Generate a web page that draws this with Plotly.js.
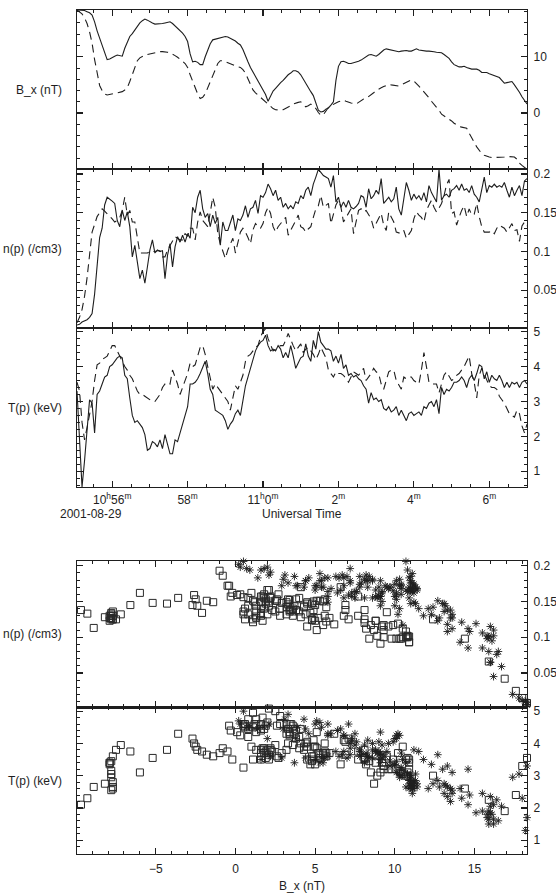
<!DOCTYPE html>
<html>
<head>
<meta charset="utf-8">
<script src="https://cdn.plot.ly/plotly-3.0.1.min.js"></script>
<style>
  html, body { margin: 0; padding: 0; background: #fff; }
  #plot { width: 556px; height: 895px; }
</style>
</head>
<body>
<div id="plot"></div>
<script>
// Cluster plasma parameters, 2001-08-29, 4 s cadence from 10:55:04 UT.
// Series A: solid line / asterisks.  Series B: dashed line / open squares.
const obsDate = '2001-08-29';
const startSecondOfDay = 10 * 3600 + 55 * 60 + 4;
const cadenceSeconds = 4;

const bxA = [
  18.3, 18.3, 18.3, 18.2, 18.0, 17.8, 17.4, 16.2, 14.6, 13.3,
  11.8, 10.4, 9.5, 9.6, 9.9, 10.1, 10.3, 10.2, 10.1, 11.5,
  12.7, 13.6, 14.1, 14.7, 15.5, 16.0, 16.4, 16.7, 16.5, 16.2,
  16.0, 15.8, 15.8, 15.9, 15.9, 16.0, 16.1, 16.2, 15.9, 15.5,
  15.1, 14.6, 14.2, 13.6, 12.7, 10.5, 9.1, 9.2, 9.0, 8.6,
  8.6, 10.0, 11.2, 12.3, 13.0, 13.1, 13.2, 13.3, 13.5, 13.6,
  13.5, 13.3, 13.1, 12.8, 12.4, 12.1, 11.3, 10.1, 9.1, 8.1,
  7.3, 6.6, 5.8, 5.1, 4.3, 3.3, 2.1, 3.0, 3.9, 4.4,
  5.0, 5.4, 5.8, 6.4, 6.8, 7.1, 7.5, 7.5, 7.3, 6.8,
  6.0, 5.3, 4.6, 3.8, 3.1, 1.8, 0.5, 0.2, 0.3, 0.7,
  0.9, 1.4, 2.0, 5.8, 8.3, 9.1, 9.2, 9.0, 8.8, 8.8,
  8.9, 9.0, 9.2, 9.4, 9.7, 10.0, 10.3, 10.4, 10.3, 10.1,
  10.4, 10.8, 11.2, 11.4, 11.3, 11.1, 11.0, 10.9, 10.9, 11.0,
  11.1, 11.1, 11.0, 11.0, 11.2, 11.4, 11.2, 11.1, 11.1, 11.0,
  11.0, 11.0, 10.9, 10.8, 10.7, 10.7, 10.4, 10.0, 9.7, 9.1,
  8.6, 8.4, 8.2, 8.2, 8.3, 8.1, 7.9, 7.8, 7.8, 7.8,
  7.6, 7.2, 7.2, 7.2, 7.0, 6.8, 6.7, 6.5, 6.3, 5.8,
  5.3, 5.4, 5.5, 5.6, 5.0, 4.4, 3.7, 2.9, 2.2, 1.6
];

const bxB = [
  18.3, 18.0, 17.6, 16.9, 15.9, 14.4, 12.4, 9.5, 6.9, 4.9,
  4.0, 3.4, 3.2, 3.3, 3.4, 3.5, 3.6, 3.7, 3.8, 4.1,
  4.5, 5.6, 6.9, 8.1, 9.3, 9.8, 10.1, 10.3, 10.4, 10.5,
  10.7, 10.8, 10.8, 10.9, 10.9, 10.9, 10.8, 10.7, 10.5, 10.2,
  9.9, 9.6, 9.2, 8.8, 8.1, 6.8, 5.6, 4.5, 3.4, 2.6,
  2.8, 3.4, 4.4, 5.5, 6.6, 7.7, 8.8, 9.3, 9.3, 9.1,
  8.9, 8.7, 8.5, 8.4, 8.2, 8.1, 7.7, 7.1, 6.2, 5.1,
  4.1, 3.6, 3.2, 2.8, 2.5, 2.1, 1.7, 1.2, 0.8, 0.6,
  0.5, 0.5, 0.6, 0.8, 1.1, 1.3, 1.6, 1.8, 1.9, 2.0,
  1.6, 1.1, 1.3, 1.6, 1.3, 0.8, 0.1, -0.4, -0.3, 0.3,
  1.0, 1.3, 1.6, 1.8, 2.0, 2.2, 2.3, 2.1, 1.9, 1.8,
  1.7, 1.6, 1.9, 2.2, 2.5, 2.6, 2.9, 3.2, 3.6, 4.0,
  4.3, 4.5, 4.7, 4.9, 5.1, 5.0, 4.9, 4.8, 4.8, 5.0,
  5.2, 5.5, 5.7, 5.9, 5.7, 5.3, 4.8, 4.3, 3.8, 3.3,
  2.7, 2.1, 1.6, 1.1, 0.5, -0.2, -0.5, -0.8, -1.0, -1.4,
  -1.8, -2.1, -2.4, -2.5, -2.6, -2.7, -3.6, -4.3, -5.2, -6.0,
  -6.6, -7.2, -7.5, -7.7, -7.8, -7.9, -7.9, -7.9, -7.8, -7.8,
  -7.8, -7.7, -7.7, -7.7, -7.8, -8.2, -8.9, -9.3, -9.7, -10.0
];

const nA = [
  0.005, 0.006, 0.009, 0.010, 0.012, 0.015, 0.020, 0.045, 0.085, 0.118,
  0.130, 0.160, 0.170, 0.168, 0.165, 0.162, 0.140, 0.132, 0.153, 0.140,
  0.151, 0.132, 0.093, 0.108, 0.085, 0.065, 0.076, 0.059, 0.080, 0.102,
  0.115, 0.098, 0.102, 0.100, 0.101, 0.065, 0.095, 0.110, 0.080, 0.106,
  0.119, 0.112, 0.121, 0.112, 0.123, 0.117, 0.157, 0.150, 0.170, 0.179,
  0.155, 0.144, 0.149, 0.132, 0.147, 0.136, 0.144, 0.108, 0.138, 0.127,
  0.127, 0.138, 0.147, 0.127, 0.142, 0.140, 0.147, 0.159, 0.144, 0.155,
  0.157, 0.166, 0.149, 0.172, 0.170, 0.176, 0.187, 0.181, 0.172, 0.179,
  0.166, 0.170, 0.157, 0.162, 0.155, 0.159, 0.155, 0.164, 0.162, 0.172,
  0.168, 0.179, 0.183, 0.172, 0.187, 0.196, 0.206, 0.202, 0.198, 0.196,
  0.194, 0.183, 0.198, 0.164, 0.170, 0.157, 0.164, 0.157, 0.166, 0.157,
  0.155, 0.158, 0.162, 0.172, 0.170, 0.157, 0.181, 0.168, 0.172, 0.179,
  0.174, 0.194, 0.162, 0.166, 0.170, 0.164, 0.168, 0.183, 0.155, 0.147,
  0.168, 0.189, 0.179, 0.166, 0.174, 0.168, 0.172, 0.166, 0.176, 0.164,
  0.185, 0.176, 0.170, 0.164, 0.206, 0.166, 0.172, 0.174, 0.170, 0.179,
  0.181, 0.185, 0.179, 0.187, 0.179, 0.181, 0.176, 0.185, 0.174, 0.170,
  0.164, 0.179, 0.196, 0.176, 0.185, 0.183, 0.187, 0.183, 0.185, 0.183,
  0.189, 0.179, 0.170, 0.183, 0.172, 0.179, 0.185, 0.172, 0.191, 0.194
];

const nB = [
  0.008, 0.015, 0.025, 0.042, 0.066, 0.098, 0.125, 0.135, 0.145, 0.150,
  0.155, 0.152, 0.149, 0.146, 0.142, 0.138, 0.140, 0.144, 0.153, 0.170,
  0.147, 0.153, 0.138, 0.138, 0.117, 0.098, 0.098, 0.098, 0.098, 0.100,
  0.100, 0.100, 0.101, 0.101, 0.093, 0.093, 0.102, 0.108, 0.112, 0.119,
  0.117, 0.115, 0.115, 0.123, 0.120, 0.130, 0.130, 0.115, 0.138, 0.151,
  0.140, 0.136, 0.132, 0.150, 0.170, 0.157, 0.123, 0.110, 0.100, 0.091,
  0.102, 0.110, 0.117, 0.098, 0.112, 0.125, 0.130, 0.125, 0.118, 0.110,
  0.128, 0.136, 0.132, 0.130, 0.136, 0.150, 0.157, 0.149, 0.132, 0.125,
  0.132, 0.136, 0.140, 0.144, 0.121, 0.127, 0.134, 0.140, 0.147, 0.132,
  0.130, 0.125, 0.129, 0.132, 0.144, 0.155, 0.159, 0.172, 0.157, 0.160,
  0.162, 0.136, 0.149, 0.160, 0.166, 0.157, 0.138, 0.144, 0.150, 0.155,
  0.123, 0.140, 0.153, 0.155, 0.151, 0.153, 0.148, 0.142, 0.130, 0.136,
  0.142, 0.149, 0.134, 0.127, 0.151, 0.145, 0.138, 0.125, 0.124, 0.123,
  0.127, 0.117, 0.122, 0.127, 0.142, 0.151, 0.147, 0.144, 0.138, 0.153,
  0.160, 0.166, 0.157, 0.151, 0.156, 0.162, 0.172, 0.186, 0.193, 0.149,
  0.151, 0.134, 0.144, 0.153, 0.159, 0.145, 0.155, 0.147, 0.148, 0.162,
  0.145, 0.132, 0.125, 0.125, 0.125, 0.127, 0.123, 0.130, 0.134, 0.132,
  0.130, 0.125, 0.130, 0.136, 0.127, 0.128, 0.113, 0.133, 0.138, 0.133
];

const tA = [
  3.3, 1.7, 0.55, 1.3, 2.3, 3.05, 2.95, 2.1, 3.2, 3.3,
  3.5, 3.7, 3.75, 4.0, 4.05, 4.15, 4.25, 4.3, 4.25, 3.75,
  3.65, 3.1, 2.6, 2.4, 2.45, 2.35, 2.25, 2.05, 1.6, 1.65,
  1.85, 1.8, 1.7, 1.9, 1.65, 2.05, 1.8, 1.5, 1.5, 1.9,
  1.85, 2.1, 2.3, 2.55, 2.85, 3.5, 3.5, 3.55, 3.65, 3.8,
  4.0, 4.15, 3.8, 3.35, 3.2, 2.75, 2.7, 2.65, 2.6, 2.45,
  2.2, 2.35, 2.45, 2.65, 2.75, 2.6, 3.05, 3.45, 3.7, 3.95,
  4.15, 4.45, 4.6, 4.7, 4.75, 4.9, 4.6, 4.45, 4.5, 4.45,
  4.6, 4.5, 4.25, 4.4, 4.25, 4.6, 4.3, 3.95, 4.1, 4.25,
  4.3, 4.65, 4.3, 4.15, 4.75, 4.5, 5.0, 4.7, 4.6, 4.5,
  4.5, 4.45, 4.15, 4.3, 4.1, 4.35, 3.95, 4.05, 3.75, 3.8,
  3.7, 3.75, 3.65, 3.6, 3.45, 3.35, 2.95, 3.25, 3.05, 3.1,
  3.0, 3.05, 2.8, 2.75, 2.85, 2.7, 2.75, 2.85, 2.6, 2.75,
  2.6, 2.45, 2.65, 2.7, 2.6, 2.65, 2.7, 2.6, 2.85, 2.8,
  2.95, 3.0, 2.85, 3.05, 2.65, 3.4, 3.2, 3.35, 3.3, 3.4,
  3.55, 3.55, 3.6, 3.7, 3.6, 3.4, 3.65, 3.75, 3.6, 3.8,
  4.05, 4.0, 3.65, 3.85, 3.55, 3.75, 3.65, 3.6, 3.75, 3.6,
  3.4, 3.55, 3.4, 3.55, 3.5, 3.55, 3.4, 3.55, 3.6, 3.5
];

const tB = [
  3.55, 3.3, 2.4, 1.9, 2.25, 2.6, 3.0, 3.6, 4.05, 4.1,
  4.2, 4.25, 4.3, 4.45, 4.6, 4.6, 4.45, 4.3, 4.15, 4.0,
  3.9, 3.75, 3.65, 3.5, 3.3, 3.2, 3.2, 3.15, 3.1, 3.05,
  3.0, 3.0, 3.1, 3.2, 3.4, 3.5, 3.55, 3.5, 3.9, 3.7,
  3.5, 3.2, 3.4, 3.65, 3.8, 4.1, 4.0, 4.05, 4.3, 4.55,
  4.6, 4.35, 4.0, 3.7, 3.35, 3.5, 3.4, 3.3, 3.2, 3.1,
  3.0, 2.75, 3.1, 3.45, 3.35, 3.55, 3.75, 4.15, 4.3, 4.35,
  4.45, 4.55, 4.6, 4.85, 5.0, 5.08, 4.8, 4.6, 4.45, 4.5,
  4.55, 4.6, 4.6, 4.75, 4.95, 4.75, 4.6, 4.45, 4.55, 4.65,
  4.4, 4.5, 4.55, 4.45, 4.35, 4.2, 4.35, 4.55, 4.4, 4.25,
  3.9, 3.8, 3.7, 3.85, 3.8, 3.8, 3.75, 3.65, 3.55, 3.7,
  3.85, 3.8, 3.75, 3.85, 3.95, 3.6, 3.7, 3.8, 3.95, 3.85,
  3.8, 3.5, 3.35, 3.6, 3.85, 3.9, 3.9, 3.6, 3.45, 3.35,
  3.7, 3.65, 3.7, 3.7, 3.6, 3.55, 3.5, 3.9, 4.4, 4.0,
  3.55, 3.5, 3.5, 3.5, 3.25, 3.5, 3.75, 3.85, 3.7, 3.6,
  3.65, 3.75, 3.8, 3.9, 4.0, 4.15, 4.3, 3.8, 3.55, 3.1,
  3.75, 3.95, 3.8, 3.6, 3.45, 3.4, 3.4, 3.35, 3.15, 3.05,
  2.95, 2.8, 2.65, 2.6, 2.55, 2.75, 2.65, 2.3, 2.1, 2.35
];

// Time-axis labels (every 2 minutes)
const timeTickVals = ['10:56:00', '10:58:00', '11:00:00', '11:02:00', '11:04:00', '11:06:00'];
const timeTickText = [
  '10<sup>h</sup>56<sup>m</sup>', '58<sup>m</sup>', '11<sup>h</sup>0<sup>m</sup>',
  '2<sup>m</sup>', '4<sup>m</sup>', '6<sup>m</sup>'
];
const timeRange = ['10:55:04', '11:07:00'];

// Axis ranges
const bxRange = [-9.95, 18.3];
const nRangeTime = [0.001, 0.2063];
const tRangeTime = [0.54, 5.1];
const nRangeScatter = [0.002, 0.207];
const tRangeScatter = [0.57, 5.12];

function pad2(v) { return (v < 10 ? '0' : '') + v; }
function stamp(secOfDay) {
  const h = Math.floor(secOfDay / 3600);
  const m = Math.floor((secOfDay % 3600) / 60);
  const s = secOfDay % 60;
  return obsDate + ' ' + pad2(h) + ':' + pad2(m) + ':' + pad2(s);
}
const times = bxA.map((_, i) => stamp(startSecondOfDay + i * cadenceSeconds));
const onDate = hms => obsDate + ' ' + hms;

const ink = '#1e1e1e';
const fontFamily = '"Liberation Sans", Arial, Helvetica, sans-serif';

const axisStyle = {
  showgrid: false, zeroline: false,
  showline: true, linecolor: ink, linewidth: 1.2,
  mirror: 'ticks', ticks: 'inside', ticklen: 6, tickwidth: 1.2, tickcolor: ink,
  tickfont: { family: fontFamily, size: 12, color: ink }
};
const minorStyle = { ticks: 'inside', ticklen: 3, tickwidth: 1, tickcolor: ink };

function timeAxis(anchor, labels) {
  return Object.assign({}, axisStyle, {
    type: 'date', anchor: anchor, domain: [0, 1],
    range: timeRange.map(onDate),
    tickmode: 'array', tickvals: timeTickVals.map(onDate), ticktext: timeTickText,
    showticklabels: labels, ticklabelstandoff: 1,
    minor: Object.assign({ dtick: 30000, tick0: onDate('10:55:00') }, minorStyle)
  });
}
function bxAxis(anchor, labels) {
  return Object.assign({}, axisStyle, {
    anchor: anchor, domain: [0, 1], range: bxRange,
    tickmode: 'linear', tick0: 0, dtick: 5, showticklabels: labels,
    ticklabelstandoff: 3,
    minor: Object.assign({ dtick: 1, tick0: 0 }, minorStyle)
  });
}
function valueAxis(anchor, domain, range, dtick, minorDtick) {
  return Object.assign({}, axisStyle, {
    anchor: anchor, domain: domain, range: range, side: 'right',
    tickmode: 'linear', tick0: 0, dtick: dtick, ticklabelstandoff: 3,
    minor: Object.assign({ dtick: minorDtick, tick0: 0 }, minorStyle)
  });
}

const solidLine = { color: ink, width: 1.1 };
const dashedLine = { color: ink, width: 1.1, dash: '8px,5px' };
const squareMarker = { symbol: 'square-open', size: 7, color: '#2a2a2a', line: { width: 1, color: '#2a2a2a' } };
const starMarker = { symbol: 'asterisk-open', size: 6.5, color: ink, line: { width: 0.9, color: ink } };

const traces = [
  { x: times, y: bxA, xaxis: 'x', yaxis: 'y', mode: 'lines', line: solidLine },
  { x: times, y: bxB, xaxis: 'x', yaxis: 'y', mode: 'lines', line: dashedLine },
  { x: times, y: nA, xaxis: 'x2', yaxis: 'y2', mode: 'lines', line: solidLine },
  { x: times, y: nB, xaxis: 'x2', yaxis: 'y2', mode: 'lines', line: dashedLine },
  { x: times, y: tA, xaxis: 'x3', yaxis: 'y3', mode: 'lines', line: solidLine },
  { x: times, y: tB, xaxis: 'x3', yaxis: 'y3', mode: 'lines', line: dashedLine },
  { x: bxB, y: nB, xaxis: 'x4', yaxis: 'y4', mode: 'markers', marker: squareMarker, cliponaxis: false },
  { x: bxA, y: nA, xaxis: 'x4', yaxis: 'y4', mode: 'markers', marker: starMarker, cliponaxis: false },
  { x: bxB, y: tB, xaxis: 'x5', yaxis: 'y5', mode: 'markers', marker: squareMarker, cliponaxis: false },
  { x: bxA, y: tA, xaxis: 'x5', yaxis: 'y5', mode: 'markers', marker: starMarker, cliponaxis: false }
];

const dom = {
  bx: [0.8115, 1], n: [0.6230, 0.8115], t: [0.4345, 0.6230],
  ns: [0.1738, 0.3475], ts: [0, 0.1738]
};
const mid = d => (d[0] + d[1]) / 2;

function sideLabel(text, y) {
  return { text: text, xref: 'paper', yref: 'paper', x: -0.029, y: y,
           xanchor: 'right', yanchor: 'middle', showarrow: false,
           font: { family: fontFamily, size: 12, color: ink } };
}
function freeText(text, x, y, xanchor) {
  return { text: text, xref: 'paper', yref: 'paper', x: x, y: y,
           xanchor: xanchor, yanchor: 'middle', showarrow: false,
           font: { family: fontFamily, size: 12, color: ink } };
}

const layout = {
  width: 556, height: 895,
  margin: { l: 77, r: 29, t: 10, b: 41 },
  paper_bgcolor: '#fff', plot_bgcolor: '#fff',
  showlegend: false,
  font: { family: fontFamily, size: 12, color: ink },
  xaxis: timeAxis('y', false),
  xaxis2: timeAxis('y2', false),
  xaxis3: timeAxis('y3', true),
  xaxis4: bxAxis('y4', false),
  xaxis5: bxAxis('y5', true),
  yaxis: valueAxis('x', dom.bx, [-9.95, 18.3], 10, 2),
  yaxis2: valueAxis('x2', dom.n, nRangeTime, 0.05, 0.01),
  yaxis3: valueAxis('x3', dom.t, tRangeTime, 1, 0.2),
  yaxis4: valueAxis('x4', dom.ns, nRangeScatter, 0.05, 0.01),
  yaxis5: valueAxis('x5', dom.ts, tRangeScatter, 1, 0.2),
  annotations: [
    sideLabel('B_x (nT)', mid(dom.bx)),
    sideLabel('n(p) (/cm3)', mid(dom.n)),
    sideLabel('T(p) (keV)', mid(dom.t)),
    sideLabel('n(p) (/cm3)', mid(dom.ns)),
    sideLabel('T(p) (keV)', mid(dom.ts)),
    freeText('2001-08-29', 0.031, 0.4030, 'center'),
    freeText('Universal Time', 0.5, 0.4030, 'center'),
    freeText('B_x (nT)', 0.5, -0.0385, 'center')
  ]
};

Plotly.newPlot('plot', traces, layout, { staticPlot: true, displayModeBar: false });
</script>
</body>
</html>
